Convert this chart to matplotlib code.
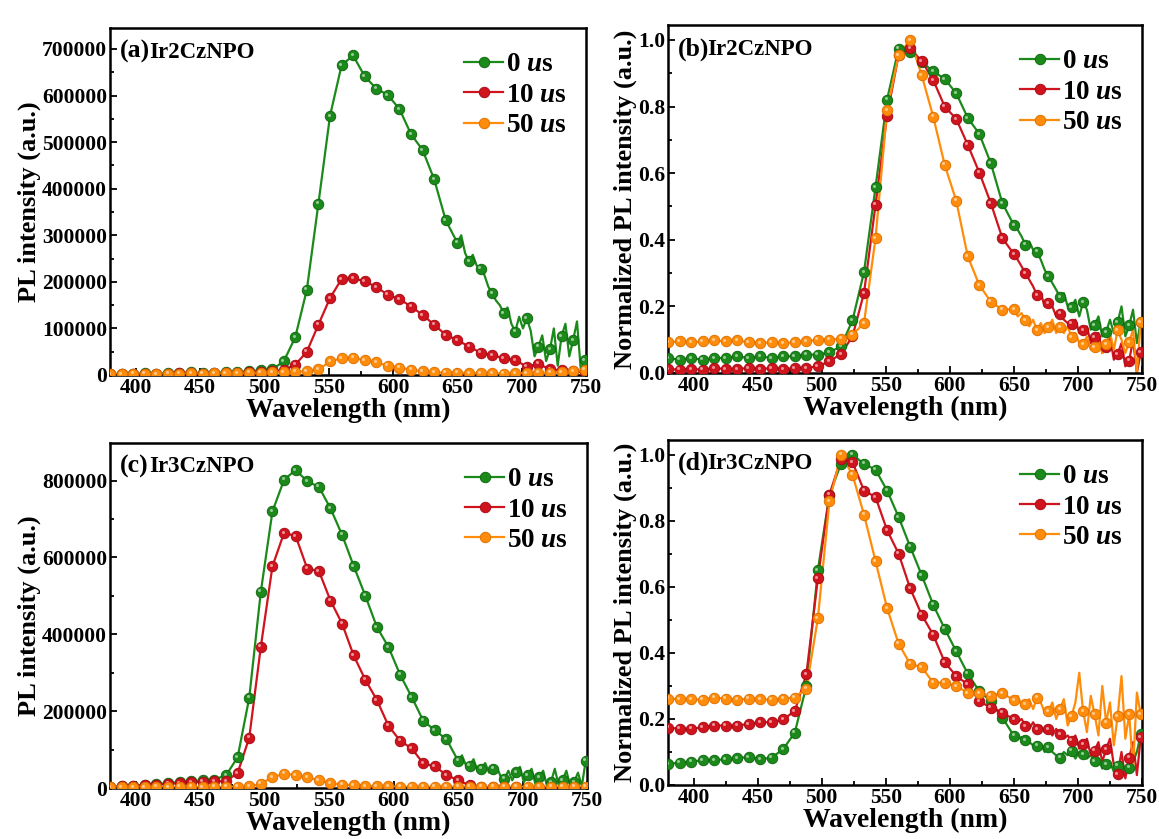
import numpy as np
import matplotlib
matplotlib.use("Agg")
import matplotlib.pyplot as plt
import matplotlib.transforms as mtransforms
from matplotlib.ticker import MultipleLocator, AutoMinorLocator

plt.rcParams['font.family'] = ['Liberation Serif', 'DejaVu Serif']
plt.rcParams['font.weight'] = 'bold'
plt.rcParams['mathtext.fontset'] = 'custom'
plt.rcParams['mathtext.it'] = 'Liberation Serif:italic:bold'
plt.rcParams['mathtext.rm'] = 'Liberation Serif:bold'

# ---------------- data ----------------
# marker grid: 380 nm + 9 nm steps ; noisy tails: 650 nm + 3 nm steps
GRID_START, GRID_STEP = 380, 9
TAIL_START, TAIL_STEP = 650, 3

series_labels = [r'0 $\mathit{u}$s', r'10 $\mathit{u}$s', r'50 $\mathit{u}$s']
panel_letters = ['(a)', '(b)', '(c)', '(d)']
panel_names = ['Ir2CzNPO', 'Ir2CzNPO', 'Ir3CzNPO', 'Ir3CzNPO']

# (a) Ir2CzNPO PL intensity (x1000)
a_0us = [2, 3, 2, 4, 3, 4, 5, 6, 4, 5, 6, 7, 8, 10, 12, 29, 81, 183, 368, 556,
         665, 686, 641, 615, 601, 571, 517, 483, 420, 332]
a_0us_tail = [284, 300, 262, 244, 258, 235, 228, 215, 190, 176, 160, 150, 133, 145, 110,
              93, 125, 100, 122, 95, 40, 61, 85, 30, 55, 100, 20, 83, 110, 40, 75, 115, 10, 32]
a_10us = [2, 2, 3, 3, 2, 3, 4, 4, 3, 4, 5, 5, 6, 6, 8, 11, 22, 50, 108, 165, 206, 208,
          201, 189, 172, 163, 147, 129, 108, 86, 75, 61, 48, 43, 36, 32, 18, 24, 12, 10, 8, 6]
a_50us = [2, 2, 3, 3, 2, 3, 3, 4, 3, 4, 4, 4, 5, 5, 6, 6, 7, 8, 12, 29, 36, 37, 32, 27,
          20, 16, 11, 8, 6, 5, 5, 4, 4, 4, 3, 4, 4, 5, 5, 6, 8, 11]

# (b) Ir2CzNPO normalized
b_0us = [0.045, 0.04, 0.045, 0.04, 0.045, 0.045, 0.05, 0.045, 0.05, 0.045, 0.05, 0.05, 0.055,
         0.055, 0.062, 0.08, 0.158, 0.303, 0.558, 0.821, 0.974, 0.965, 0.934, 0.906, 0.883,
         0.84, 0.766, 0.718, 0.63, 0.51]
b_0us_tail = [0.444, 0.43, 0.41, 0.385, 0.395, 0.37, 0.364, 0.34, 0.31, 0.29, 0.27, 0.25,
              0.228, 0.24, 0.2, 0.198, 0.22, 0.17, 0.213, 0.19, 0.13, 0.143, 0.17, 0.11,
              0.123, 0.16, 0.12, 0.153, 0.2, 0.11, 0.143, 0.19, 0.09, 0.153]
b_10us = [0.012, 0.01, 0.012, 0.01, 0.015, 0.012, 0.012, 0.015, 0.012, 0.015, 0.012, 0.015,
          0.015, 0.02, 0.035, 0.057, 0.11, 0.24, 0.505, 0.773, 0.955, 0.975, 0.937, 0.88,
          0.80, 0.763, 0.685, 0.602, 0.51, 0.405]
b_10us_tail = [0.357, 0.34, 0.32, 0.30, 0.28, 0.26, 0.234, 0.24, 0.2, 0.21, 0.2, 0.17, 0.178,
               0.16, 0.15, 0.148, 0.16, 0.12, 0.128, 0.14, 0.09, 0.108, 0.12, 0.06, 0.078,
               0.11, 0.04, 0.057, 0.09, 0.02, 0.037, 0.1, 0.0, 0.062]
b_50us = [0.092, 0.095, 0.092, 0.095, 0.098, 0.095, 0.098, 0.092, 0.09, 0.092, 0.09, 0.092,
          0.095, 0.1, 0.1, 0.103, 0.115, 0.15, 0.405, 0.79, 0.955, 1.0, 0.895, 0.77, 0.625,
          0.517, 0.35, 0.264, 0.214, 0.19]
b_50us_tail = [0.192, 0.17, 0.18, 0.158, 0.14, 0.16, 0.128, 0.15, 0.12, 0.138, 0.16, 0.12,
               0.138, 0.12, 0.14, 0.108, 0.12, 0.09, 0.087, 0.11, 0.07, 0.078, 0.1, 0.06,
               0.087, 0.12, 0.07, 0.128, 0.1, 0.06, 0.093, 0.13, 0.0, 0.153]

# (c) Ir3CzNPO PL intensity (x1000)
c_0us = [3, 4, 6, 8, 10, 13, 15, 18, 20, 22, 33, 80, 235, 511, 720, 802, 828, 798, 784,
         728, 659, 578, 501, 419, 367, 295, 237, 175, 150, 127]
c_0us_tail = [71, 85, 60, 58, 75, 45, 50, 65, 40, 50, 55, 30, 24, 45, 20, 41, 55, 15, 33,
              50, 10, 28, 45, 5, 15, 50, 8, 20, 45, 5, 15, 40, 5, 71]
c_10us = [3, 4, 5, 7, 9, 11, 13, 15, 16, 17, 18, 39, 131, 368, 577, 664, 656, 571, 565,
          488, 428, 345, 282, 229, 162, 123, 103, 64, 56, 34, 20, 7, 3, 2, 2, 2, 1, 1, 1,
          1, 1, 1]
c_50us = [2, 2, 2, 2, 3, 2, 3, 3, 2, 3, 3, 3, 4, 11, 28, 37, 34, 28, 20, 13, 9, 7, 5, 4,
          4, 3, 3, 3, 3, 3, 3, 3, 3, 3, 3, 3, 3, 3, 3, 3, 3, 3]

# (d) Ir3CzNPO normalized
d_0us = [0.063, 0.068, 0.071, 0.075, 0.075, 0.078, 0.081, 0.085, 0.078, 0.083, 0.109, 0.159,
         0.30, 0.651, 0.879, 0.973, 1.0, 0.973, 0.955, 0.892, 0.812, 0.722, 0.636, 0.546,
         0.473, 0.405, 0.337, 0.284, 0.254, 0.204]
d_0us_tail = [0.149, 0.14, 0.145, 0.136, 0.13, 0.12, 0.119, 0.125, 0.1, 0.114, 0.1, 0.09,
              0.083, 0.1, 0.09, 0.104, 0.08, 0.1, 0.093, 0.08, 0.09, 0.073, 0.08, 0.05,
              0.063, 0.07, 0.04, 0.058, 0.07, 0.03, 0.053, 0.07, 0.1, 0.154]
d_10us = [0.174, 0.17, 0.17, 0.175, 0.18, 0.18, 0.18, 0.185, 0.19, 0.19, 0.199, 0.224,
          0.335, 0.626, 0.879, 0.988, 0.978, 0.892, 0.872, 0.772, 0.701, 0.596, 0.516,
          0.455, 0.372, 0.33, 0.305, 0.254, 0.234, 0.219]
d_10us_tail = [0.199, 0.19, 0.2, 0.179, 0.17, 0.19, 0.169, 0.18, 0.16, 0.169, 0.15, 0.17,
               0.154, 0.14, 0.15, 0.134, 0.15, 0.11, 0.124, 0.14, 0.09, 0.104, 0.13, 0.07,
               0.109, 0.14, 0.06, 0.033, 0.1, 0.02, 0.083, 0.13, 0.03, 0.144]
d_50us = [0.262, 0.26, 0.26, 0.258, 0.265, 0.262, 0.258, 0.262, 0.26, 0.258, 0.262, 0.265,
          0.292, 0.505, 0.859, 1.0, 0.94, 0.819, 0.678, 0.536, 0.428, 0.367, 0.357, 0.31,
          0.31, 0.30, 0.279, 0.279, 0.27, 0.279]
d_50us_tail = [0.256, 0.27, 0.24, 0.244, 0.26, 0.23, 0.264, 0.25, 0.22, 0.224, 0.25, 0.2,
               0.229, 0.26, 0.18, 0.209, 0.25, 0.34, 0.224, 0.16, 0.27, 0.214, 0.15, 0.3,
               0.189, 0.25, 0.12, 0.209, 0.33, 0.14, 0.214, 0.05, 0.28, 0.214]

colors = ['#1b8a1b', '#d0141e', '#ff8c0a']
edge_colors = ['#116a11', '#a80d16', '#e07200']

panels = [
    dict(data=[(a_0us, a_0us_tail), (a_10us, None), (a_50us, None)], scale=1000,
         ylim=(0, 745000), ymajor=100000, ylabel='PL intensity (a.u.)', fmt='int'),
    dict(data=[(b_0us, b_0us_tail), (b_10us, b_10us_tail), (b_50us, b_50us_tail)], scale=1,
         ylim=(0, 1.045), ymajor=0.2, ylabel='Normalized PL intensity (a.u.)', fmt='f1'),
    dict(data=[(c_0us, c_0us_tail), (c_10us, None), (c_50us, None)], scale=1000,
         ylim=(0, 898000), ymajor=200000, ylabel='PL intensity (a.u.)', fmt='int'),
    dict(data=[(d_0us, d_0us_tail), (d_10us, d_10us_tail), (d_50us, d_50us_tail)], scale=1,
         ylim=(0, 1.045), ymajor=0.2, ylabel='Normalized PL intensity (a.u.)', fmt='f1'),
]

W, H = 1159, 839
fig = plt.figure(figsize=(W / 100, H / 100), dpi=100)

boxes = [  # left, right, top, bottom in pixels
    (110, 586, 28, 375),
    (668, 1142, 25, 373),
    (110, 587, 443, 788),
    (668, 1142, 440, 785),
]

for i, (p, (l, r, t, b)) in enumerate(zip(panels, boxes)):
    ax = fig.add_axes([l / W, 1 - b / H, (r - l) / W, (b - t) / H])
    handles = []
    hl_off = mtransforms.ScaledTranslation(-1.0 / 72, 1.0 / 72, fig.dpi_scale_trans)
    for j, (vals, tail) in enumerate(p['data']):
        vals = np.asarray(vals, dtype=float) * p['scale']
        x = GRID_START + GRID_STEP * np.arange(len(vals))
        if tail is not None:
            tail = np.asarray(tail, dtype=float) * p['scale']
            xt = TAIL_START + TAIL_STEP * np.arange(len(tail))
            xl = np.concatenate([x, xt])
            yl = np.concatenate([vals, tail])
        else:
            xl, yl = x, vals
        mk = ((xl - GRID_START) % GRID_STEP) == 0
        ax.plot(xl, yl, color=colors[j], lw=1.6, zorder=2 + j * 0.1)
        ax.plot(xl[mk], yl[mk], 'o', ms=7.5, mfc=colors[j], mec=edge_colors[j], mew=0.7,
                zorder=3 + j * 0.1)
        ax.plot(xl[mk], yl[mk], 'o', ms=2.2, mfc='white', mec='none', alpha=0.55,
                zorder=3.05 + j * 0.1, transform=ax.transData + hl_off)
        handles.append(ax.plot([], [], color=colors[j], lw=1.6, marker='o', ms=7.5,
                               mfc=colors[j], mec=edge_colors[j], mew=0.7)[0])

    ax.set_xlim(380, 750)
    ax.set_ylim(*p['ylim'])
    ax.xaxis.set_major_locator(MultipleLocator(50))
    ax.xaxis.set_minor_locator(MultipleLocator(25))
    ax.yaxis.set_major_locator(MultipleLocator(p['ymajor']))
    ax.yaxis.set_minor_locator(AutoMinorLocator(2))
    if p['fmt'] == 'f1':
        ax.yaxis.set_major_formatter(plt.FuncFormatter(lambda v, pos: f'{v:.1f}'))
    else:
        ax.yaxis.set_major_formatter(plt.FuncFormatter(lambda v, pos: f'{int(round(v))}'))
    ax.tick_params(which='both', direction='in', top=False, right=False,
                   labelsize=15.5, width=1.3, pad=2)
    ax.tick_params(which='major', length=5)
    ax.tick_params(which='minor', length=3)
    for lab in ax.get_xticklabels() + ax.get_yticklabels():
        lab.set_fontweight('bold')
    for s in ax.spines.values():
        s.set_linewidth(1.8)
    ax.set_xlabel('Wavelength (nm)', fontsize=20, fontweight='bold', labelpad=0)
    ax.set_ylabel(p['ylabel'], fontsize=19, fontweight='bold', labelpad=1)
    ax.text(0.02, 0.965, panel_letters[i], transform=ax.transAxes, fontsize=18.5,
            fontweight='bold', va='top', ha='left')
    ax.annotate(panel_names[i], xy=(0.02, 0.965), xycoords='axes fraction',
                xytext=(21.5, -1), textcoords='offset points', fontsize=16.5,
                fontweight='bold', va='top', ha='left')
    ax.legend(handles=handles, labels=series_labels, loc='upper right',
              bbox_to_anchor=(1.0, 0.985), frameon=False, fontsize=19.5,
              handlelength=1.45, handletextpad=0.1, labelspacing=0.2, borderaxespad=0.3)

fig.savefig('out.png', dpi=100)
